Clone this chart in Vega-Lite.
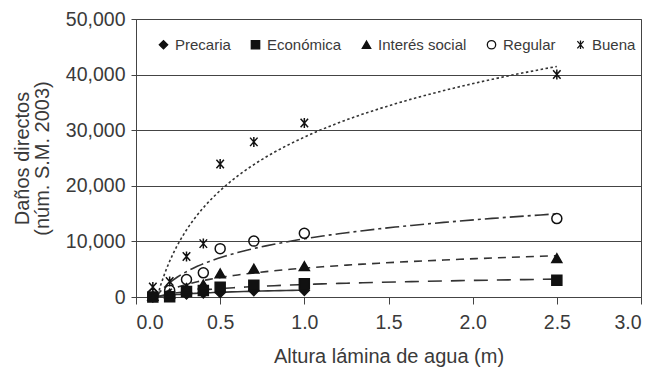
{
  "$schema": "https://vega.github.io/schema/vega-lite/v6.json",
  "width": 505,
  "height": 278,
  "autosize": {"type": "none"},
  "padding": {"left": 136, "top": 19, "right": 23, "bottom": 72},
  "background": "white",
  "config": {
    "font": "Liberation Sans",
    "view": {"stroke": "#444", "strokeWidth": 1},
    "axis": {
      "labelFont": "Liberation Sans",
      "titleFont": "Liberation Sans",
      "labelFontSize": 19.5,
      "titleFontSize": 20,
      "labelColor": "#3a3a3a",
      "titleColor": "#3a3a3a",
      "titleFontWeight": "normal",
      "domainColor": "#444",
      "tickColor": "#444",
      "gridColor": "#444",
      "gridOpacity": 1,
      "gridWidth": 1
    },
    "legend": {
      "labelFont": "Liberation Sans",
      "labelFontSize": 15,
      "labelColor": "#3a3a3a"
    }
  },
  "data": {
    "values": [
      {"serie": "Precaria", "x": 0.1, "y": 0},
      {"serie": "Precaria", "x": 0.2, "y": 200},
      {"serie": "Precaria", "x": 0.3, "y": 550},
      {"serie": "Precaria", "x": 0.4, "y": 750},
      {"serie": "Precaria", "x": 0.5, "y": 800},
      {"serie": "Precaria", "x": 0.7, "y": 1150},
      {"serie": "Precaria", "x": 1.0, "y": 1200},
      {"serie": "Económica", "x": 0.1, "y": 0},
      {"serie": "Económica", "x": 0.2, "y": 50},
      {"serie": "Económica", "x": 0.3, "y": 1000},
      {"serie": "Económica", "x": 0.4, "y": 1150},
      {"serie": "Económica", "x": 0.5, "y": 1750},
      {"serie": "Económica", "x": 0.7, "y": 2100},
      {"serie": "Económica", "x": 1.0, "y": 2400},
      {"serie": "Económica", "x": 2.5, "y": 3000},
      {"serie": "Interés social", "x": 0.1, "y": 200},
      {"serie": "Interés social", "x": 0.2, "y": 600},
      {"serie": "Interés social", "x": 0.3, "y": 1600},
      {"serie": "Interés social", "x": 0.4, "y": 2250},
      {"serie": "Interés social", "x": 0.5, "y": 4250},
      {"serie": "Interés social", "x": 0.7, "y": 5100},
      {"serie": "Interés social", "x": 1.0, "y": 5550},
      {"serie": "Interés social", "x": 2.5, "y": 7000},
      {"serie": "Regular", "x": 0.1, "y": 500},
      {"serie": "Regular", "x": 0.2, "y": 1200},
      {"serie": "Regular", "x": 0.3, "y": 3150},
      {"serie": "Regular", "x": 0.4, "y": 4350},
      {"serie": "Regular", "x": 0.5, "y": 8700},
      {"serie": "Regular", "x": 0.7, "y": 10050},
      {"serie": "Regular", "x": 1.0, "y": 11450},
      {"serie": "Regular", "x": 2.5, "y": 14100},
      {"serie": "Buena", "x": 0.1, "y": 1800},
      {"serie": "Buena", "x": 0.2, "y": 2800},
      {"serie": "Buena", "x": 0.3, "y": 7300},
      {"serie": "Buena", "x": 0.4, "y": 9600},
      {"serie": "Buena", "x": 0.5, "y": 23900},
      {"serie": "Buena", "x": 0.7, "y": 27900},
      {"serie": "Buena", "x": 1.0, "y": 31300},
      {"serie": "Buena", "x": 2.5, "y": 40000}
    ]
  },
  "layer": [
    {
      "transform": [
        {"filter": "datum.serie === 'Precaria'"},
        {"regression": "y", "on": "x", "method": "log"}
      ],
      "mark": {"type": "line", "clip": true, "color": "#333", "strokeWidth": 1.6},
      "encoding": {
        "x": {"field": "x", "type": "quantitative"},
        "y": {"field": "y", "type": "quantitative"}
      }
    },
    {
      "transform": [
        {"filter": "datum.serie === 'Económica'"},
        {"regression": "y", "on": "x", "method": "log"}
      ],
      "mark": {"type": "line", "clip": true, "color": "#333", "strokeWidth": 1.6, "strokeDash": [14, 9]},
      "encoding": {
        "x": {"field": "x", "type": "quantitative"},
        "y": {"field": "y", "type": "quantitative"}
      }
    },
    {
      "transform": [
        {"filter": "datum.serie === 'Interés social'"},
        {"regression": "y", "on": "x", "method": "log"}
      ],
      "mark": {"type": "line", "clip": true, "color": "#333", "strokeWidth": 1.6, "strokeDash": [8, 6]},
      "encoding": {
        "x": {"field": "x", "type": "quantitative"},
        "y": {"field": "y", "type": "quantitative"}
      }
    },
    {
      "transform": [
        {"filter": "datum.serie === 'Regular'"},
        {"regression": "y", "on": "x", "method": "log"}
      ],
      "mark": {"type": "line", "clip": true, "color": "#333", "strokeWidth": 1.6, "strokeDash": [14, 4, 3, 4]},
      "encoding": {
        "x": {"field": "x", "type": "quantitative"},
        "y": {"field": "y", "type": "quantitative"}
      }
    },
    {
      "transform": [
        {"filter": "datum.serie === 'Buena'"},
        {"regression": "y", "on": "x", "method": "log"}
      ],
      "mark": {"type": "line", "clip": true, "color": "#333", "strokeWidth": 1.6, "strokeDash": [2.5, 2.5]},
      "encoding": {
        "x": {"field": "x", "type": "quantitative"},
        "y": {"field": "y", "type": "quantitative"}
      }
    },
    {
      "mark": {"type": "point", "filled": false, "stroke": "#111", "strokeWidth": 1.5, "opacity": 1, "size": 100},
      "encoding": {
        "x": {
          "field": "x",
          "type": "quantitative",
          "scale": {"domain": [0, 3], "nice": false},
          "axis": {
            "title": "Altura lámina de agua (m)",
            "values": [0, 0.5, 1, 1.5, 2, 2.5, 3],
            "format": ".1f",
            "grid": false,
            "tickSize": 7,
            "labelPadding": 9,
            "titlePadding": 15
          }
        },
        "y": {
          "field": "y",
          "type": "quantitative",
          "scale": {"domain": [0, 50000], "nice": false},
          "axis": {
            "title": ["Daños directos", "(núm. S.M. 2003)"],
            "titleLineHeight": 20,
            "values": [0, 10000, 20000, 30000, 40000, 50000],
            "format": ",.0f",
            "grid": true,
            "tickSize": 5,
            "labelPadding": 6,
            "titlePadding": 13
          }
        },
        "shape": {
          "field": "serie",
          "type": "nominal",
          "scale": {
            "domain": ["Precaria", "Económica", "Interés social", "Regular", "Buena"],
            "range": ["diamond", "square", "triangle-up", "circle", "M-0.75,-0.85L0.75,0.85M-0.75,0.85L0.75,-0.85M0,-1L0,1"]
          },
          "legend": {
            "title": null,
            "orient": "none",
            "direction": "horizontal",
            "legendX": 20,
            "legendY": 18,
            "padding": 0,
            "columnPadding": 17,
            "labelOffset": 4,
            "symbolSize": 70,
            "symbolStrokeColor": "#111",
            "symbolStrokeWidth": 1.3,
            "symbolOpacity": 1,
            "encode": {
              "symbols": {
                "update": {
                  "stroke": {"value": "#111"},
                  "strokeWidth": {"value": 1.3},
                  "opacity": {"value": 1}
                }
              }
            }
          }
        },
        "fill": {
          "field": "serie",
          "type": "nominal",
          "scale": {
            "domain": ["Precaria", "Económica", "Interés social", "Regular", "Buena"],
            "range": ["#111", "#111", "#111", "transparent", "transparent"]
          },
          "legend": {
            "title": null,
            "orient": "none",
            "direction": "horizontal",
            "legendX": 20,
            "legendY": 18,
            "padding": 0,
            "columnPadding": 17,
            "labelOffset": 4,
            "symbolSize": 70,
            "symbolStrokeColor": "#111",
            "symbolStrokeWidth": 1.3,
            "symbolOpacity": 1,
            "encode": {
              "symbols": {
                "update": {
                  "stroke": {"value": "#111"},
                  "strokeWidth": {"value": 1.3},
                  "opacity": {"value": 1}
                }
              }
            }
          }
        }
      }
    }
  ]
}
